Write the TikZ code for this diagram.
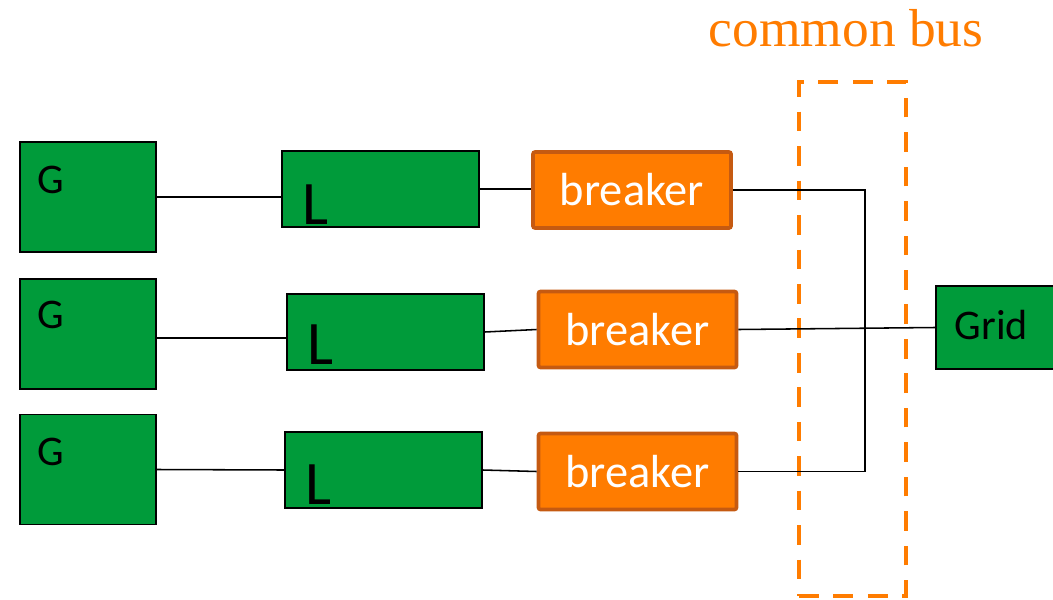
\documentclass[tikz,border=0pt]{standalone}
\usepackage{fontspec}
\setmainfont{Carlito}
\newfontfamily\serifbus{Liberation Serif}
\usepackage{tikz}
\usetikzlibrary{calc,positioning,backgrounds}
\definecolor{boxgreen}{RGB}{0,155,58}
\definecolor{brkorange}{RGB}{255,124,0}
\definecolor{brkedge}{RGB}{197,90,17}

\begin{document}
\begin{tikzpicture}[x=0.025cm,y=-0.025cm,
  gen/.style={draw=black,line width=1pt,fill=boxgreen,minimum width=3.4cm,minimum height=2.75cm,inner sep=0pt},
  line/.style={draw=black,line width=1pt,fill=boxgreen,minimum width=4.925cm,minimum height=1.9cm,inner sep=0pt},
  brk/.style={draw=brkedge,line width=2.6pt,fill=brkorange,rounded corners=1.5pt,minimum width=4.95cm,minimum height=1.9cm,inner sep=0pt,text=white,font=\fontsize{33}{36}\selectfont},
  wire/.style={black,line width=1.1pt},
  gtxt/.style={font=\fontsize{30}{32}\selectfont,inner sep=0pt},
  ltxt/.style={font=\fontsize{44}{46}\selectfont,inner sep=0pt}]
\useasboundingbox (0,0) rectangle (1053,599);
% sources
\node[gen] (g1) at (88,197) {};
\node[gen] (g2) at (88,334) {};
\node[gen] (g3) at (88,469.5) {};
\node[gtxt] (g1t) at ($(g1.north west)+(32,39)$) {G};
\node[gtxt] (g2t) at ($(g2.north west)+(32,37)$) {G};
\node[gtxt] (g3t) at ($(g3.north west)+(32,38)$) {G};
% lines
\node[line] (l1) at (380.5,189) {};
\node[line] (l2) at (385.5,332) {};
\node[line] (l3) at (383.5,470) {};
\node[ltxt] (l1t) at ($(l1.north west)+(34,54)$) {L};
\node[ltxt] (l2t) at ($(l2.north west)+(34,51)$) {L};
\node[ltxt] (l3t) at ($(l3.north west)+(34,53)$) {L};
% breakers
\node[brk] (b1) at (632,190) {breaker};
\node[brk] (b2) at (637.5,329.5) {breaker};
\node[brk] (b3) at (637.5,471.5) {breaker};
% grid
\node[draw=black,line width=1pt,fill=boxgreen,minimum width=3.0cm,minimum height=2.075cm,inner sep=0pt] (grid) at (996,327.5) {};
\node[gtxt] (gridt) at ($(grid.west)+(56,-3)$) {Grid};
% common bus
\node[draw=brkorange,line width=2.8pt,dash pattern=on 14pt off 10.5pt,minimum width=2.675cm,minimum height=12.85cm,inner sep=0pt] (bus) at (852.5,339) {};
\node[text=brkorange,font=\serifbus\fontsize{38}{40}\selectfont,inner sep=0pt] (bustxt) at (846,28) {common bus};
\coordinate (bx) at (865,0);
% wiring
\draw[wire] (g1.east) -- (g1.east -| l1.west);
\draw[wire] ($(g2.east)+(0,4)$) coordinate (g2o) -- (g2o -| l2.west);
\draw[wire] (g3.east) -- (l3.west);
\draw[wire] (l1.east) -- (l1.east -| b1.west);
\draw[wire] (l2.east) -- (b2.west);
\draw[wire] (l3.east) -- (b3.west);
\draw[wire] (b1.east) -| (b3.east -| bx) -- (b3.east);
\draw[wire] (b2.east) -- (grid.west);
\end{tikzpicture}
\end{document}
